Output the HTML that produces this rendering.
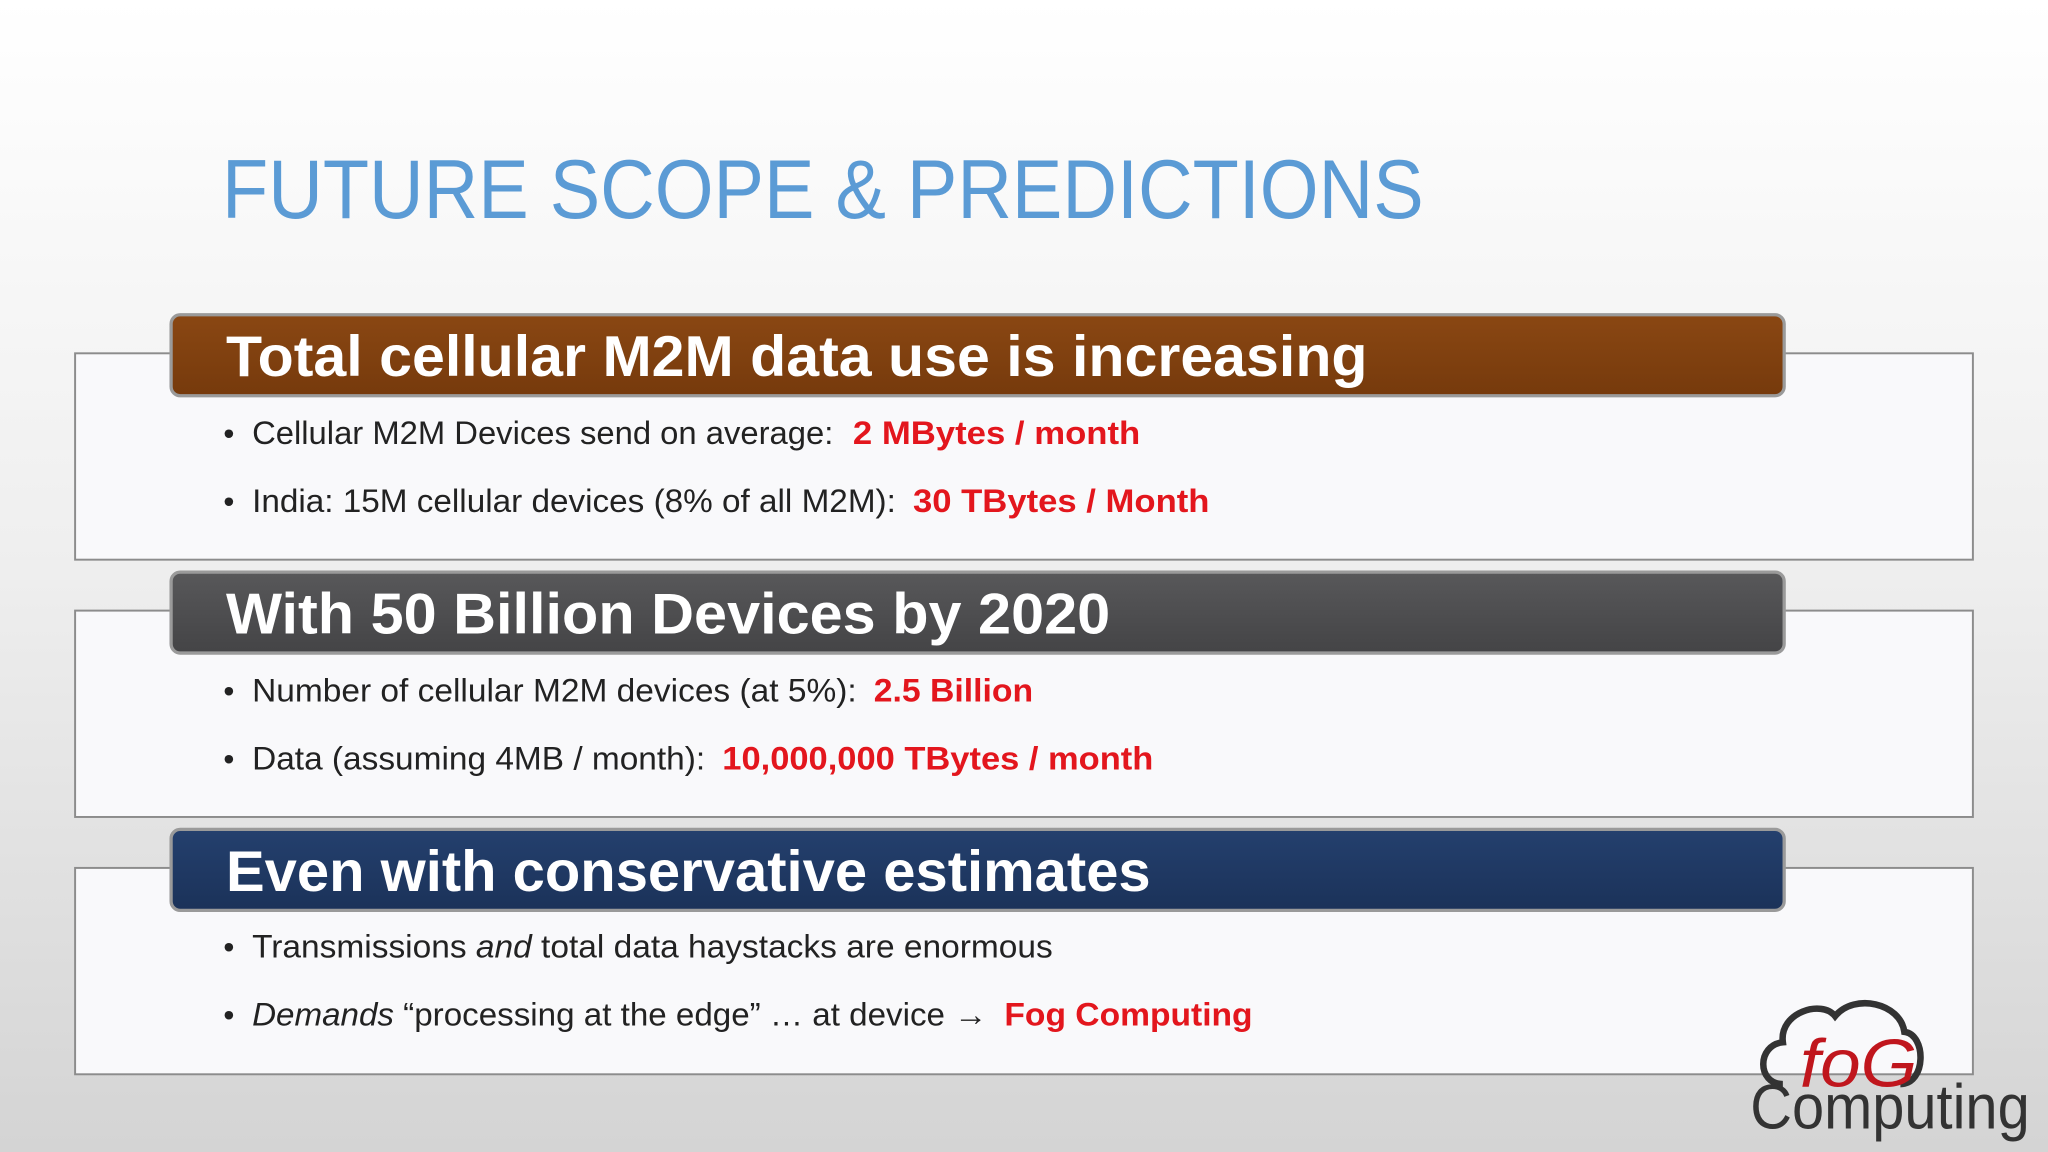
<!DOCTYPE html>
<html><head><meta charset="utf-8"><style>
html,body{margin:0;padding:0;width:2048px;height:1152px;overflow:hidden}
svg{display:block}
text{font-family:"Liberation Sans","DejaVu Sans",sans-serif}
</style></head><body>
<svg width="2048" height="1152" viewBox="0 0 1568 882">
<defs>
<linearGradient id="bg" x1="0" y1="0" x2="0" y2="1"><stop offset="0" stop-color="#ffffff"/><stop offset="0.5" stop-color="#eeeeee"/><stop offset="1" stop-color="#d4d4d4"/></linearGradient>
<linearGradient id="g1" x1="0" y1="0" x2="0" y2="1"><stop offset="0" stop-color="#8a4713"/><stop offset="1" stop-color="#763a0c"/></linearGradient>
<linearGradient id="g2" x1="0" y1="0" x2="0" y2="1"><stop offset="0" stop-color="#58585a"/><stop offset="1" stop-color="#444446"/></linearGradient>
<linearGradient id="g3" x1="0" y1="0" x2="0" y2="1"><stop offset="0" stop-color="#24406e"/><stop offset="1" stop-color="#1b3259"/></linearGradient>
</defs>
<rect width="1568" height="882" fill="url(#bg)"/>
<text x="170" y="167" font-size="64" fill="#5b9bd5" textLength="920" lengthAdjust="spacingAndGlyphs">FUTURE SCOPE &amp; PREDICTIONS</text>

<g>
<rect x="57.5" y="270.5" width="1453" height="158" fill="#f9f9fb" stroke="#8c8c8c" stroke-width="1.5"/>
<rect x="131" y="241" width="1235" height="62" rx="7" fill="url(#g1)" stroke="#9a9a9a" stroke-width="2.5"/>
<text x="173" y="288" font-size="44" font-weight="bold" fill="#fff" textLength="874" lengthAdjust="spacingAndGlyphs">Total cellular M2M data use is increasing</text>
<text x="171" y="340" font-size="24" fill="#222">•</text>
<text x="193" y="340" font-size="25" fill="#222"><tspan textLength="452" lengthAdjust="spacingAndGlyphs">Cellular M2M Devices send on average: </tspan><tspan x="653" font-weight="bold" fill="#e3161d" textLength="220" lengthAdjust="spacingAndGlyphs">2 MBytes / month</tspan></text>
<text x="171" y="392" font-size="24" fill="#222">•</text>
<text x="193" y="392" font-size="25" fill="#222"><tspan textLength="500" lengthAdjust="spacingAndGlyphs">India: 15M cellular devices (8% of all M2M): </tspan><tspan x="699" font-weight="bold" fill="#e3161d" textLength="227" lengthAdjust="spacingAndGlyphs">30 TBytes / Month</tspan></text>
</g>

<g>
<rect x="57.5" y="467.5" width="1453" height="158" fill="#f9f9fb" stroke="#8c8c8c" stroke-width="1.5"/>
<rect x="131" y="438" width="1235" height="62" rx="7" fill="url(#g2)" stroke="#9a9a9a" stroke-width="2.5"/>
<text x="173" y="485" font-size="44" font-weight="bold" fill="#fff" textLength="677" lengthAdjust="spacingAndGlyphs">With 50 Billion Devices by 2020</text>
<text x="171" y="537" font-size="24" fill="#222">•</text>
<text x="193" y="537" font-size="25" fill="#222"><tspan textLength="470" lengthAdjust="spacingAndGlyphs">Number of cellular M2M devices (at 5%): </tspan><tspan x="669" font-weight="bold" fill="#e3161d" textLength="122" lengthAdjust="spacingAndGlyphs">2.5 Billion</tspan></text>
<text x="171" y="589" font-size="24" fill="#222">•</text>
<text x="193" y="589" font-size="25" fill="#222"><tspan textLength="354" lengthAdjust="spacingAndGlyphs">Data (assuming 4MB / month): </tspan><tspan x="553" font-weight="bold" fill="#e3161d" textLength="330" lengthAdjust="spacingAndGlyphs">10,000,000 TBytes / month</tspan></text>
</g>

<g>
<rect x="57.5" y="664.5" width="1453" height="158" fill="#f9f9fb" stroke="#8c8c8c" stroke-width="1.5"/>
<rect x="131" y="635" width="1235" height="62" rx="7" fill="url(#g3)" stroke="#9a9a9a" stroke-width="2.5"/>
<text x="173" y="682" font-size="44" font-weight="bold" fill="#fff" textLength="708" lengthAdjust="spacingAndGlyphs">Even with conservative estimates</text>
<text x="171" y="733" font-size="24" fill="#222">•</text>
<text x="193" y="733" font-size="25" fill="#222" textLength="613" lengthAdjust="spacingAndGlyphs">Transmissions <tspan font-style="italic">and</tspan> total data haystacks are enormous</text>
<text x="171" y="785" font-size="24" fill="#222">•</text>
<text x="193" y="785" font-size="25" fill="#222"><tspan textLength="570" lengthAdjust="spacingAndGlyphs"><tspan font-style="italic">Demands</tspan> “processing at the edge” … at device → </tspan><tspan x="769" font-weight="bold" fill="#e3161d" textLength="190" lengthAdjust="spacingAndGlyphs">Fog Computing</tspan></text>
</g>

<g>
<path d="M1365 830 C1345 830 1345 800 1365 798 C1362 775 1395 765 1405 778 C1420 760 1455 768 1458 790 C1475 792 1475 830 1455 830" fill="none" stroke="#333" stroke-width="5"/>
<text x="1378" y="832" font-size="52" fill="#c0161d" font-style="italic" textLength="90" lengthAdjust="spacingAndGlyphs">foG</text>
<text x="1340" y="864" font-size="48" fill="#333" textLength="214" lengthAdjust="spacingAndGlyphs">Computing</text>
</g>
</svg>
</body></html>
